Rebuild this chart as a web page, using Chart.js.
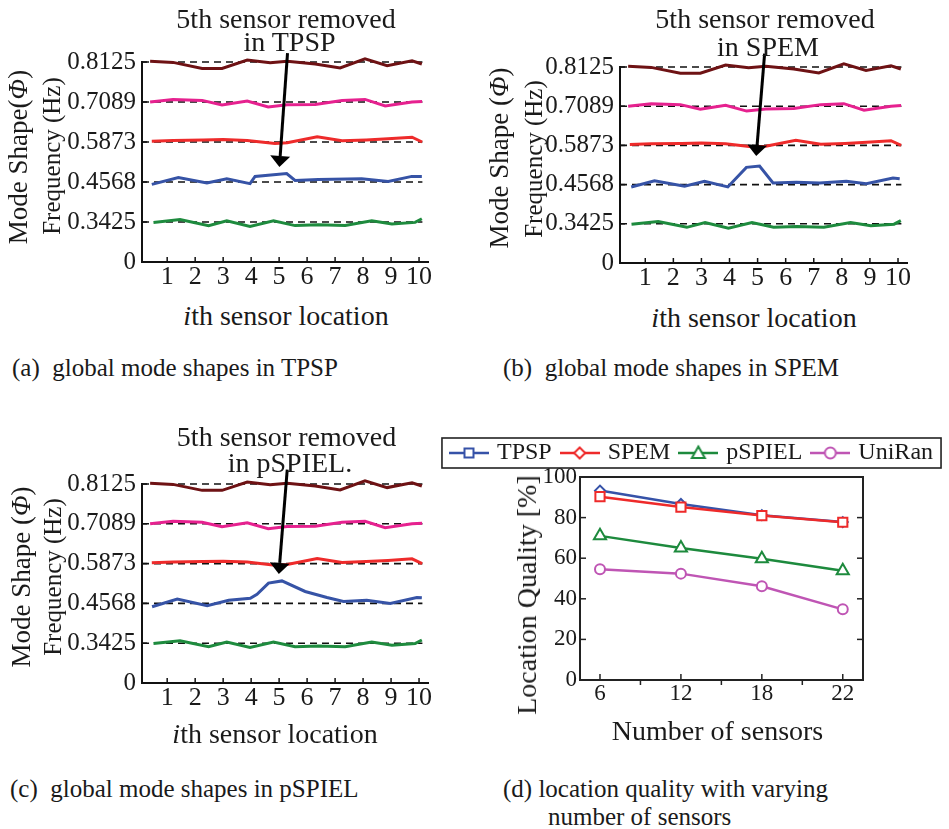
<!DOCTYPE html>
<html>
<head>
<meta charset="utf-8">
<script src="https://cdn.jsdelivr.net/npm/chart.js"></script>
<style>
  body { margin: 0; background: #fff; width: 949px; height: 829px; position: relative; overflow: hidden; }
  canvas { position: absolute; }
  .t { position: absolute; white-space: nowrap; font-family: 'Liberation Serif', serif; color: #1a1a1a; }
</style>
</head>
<body>
<canvas id="chartA" width="470" height="300" style="left:0;top:0"></canvas>
<canvas id="chartB" width="471" height="300" style="left:478px;top:0"></canvas>
<canvas id="chartC" width="470" height="300" style="left:0;top:420px"></canvas>
<canvas id="chartD" width="512" height="321" style="left:437px;top:429px"></canvas>
<script>
// ---- mode shape panels (a)-(c) ----
var sensorLocations = [1, 2, 3, 4, 5, 6, 7, 8, 9, 10];
var levelLabels = ['0', '0.3425', '0.4568', '0.5873', '0.7089', '0.8125'];

// shared mode shapes, in level units (level k = k-th frequency line)
var mode1X = [0.51, 1.46, 2.48, 3.13, 3.96, 4.8, 5.57, 6.4, 7.36, 8.31, 9.03, 9.86, 10.1];
var mode1Y = [0.99, 1.06, 0.91, 1.03, 0.89, 1.03, 0.91, 0.93, 0.91, 1.03, 0.95, 0.99, 1.08];
var mode3X = [0.45, 1.21, 2.29, 3.0, 3.86, 4.85, 5.29, 6.36, 7.25, 8.11, 8.89, 9.75, 10.11];
var mode3Y = [3.02, 3.04, 3.05, 3.06, 3.04, 2.96, 2.98, 3.13, 3.03, 3.05, 3.08, 3.12, 3.0];
var mode4X = [0.39, 1.21, 2.25, 2.96, 3.86, 4.61, 5.29, 6.29, 7.25, 8.07, 8.79, 9.75, 10.11];
var mode4Y = [4.0, 4.065, 4.04, 3.925, 4.025, 3.875, 3.93, 3.94, 4.04, 4.065, 3.9, 4.0, 4.015];
var mode5X = [0.39, 1.21, 2.25, 2.96, 3.86, 4.68, 5.29, 6.29, 7.18, 8.07, 8.86, 9.75, 10.1];
var mode5Y = [5.02, 4.99, 4.84, 4.84, 5.05, 4.98, 5.02, 4.95, 4.85, 5.08, 4.91, 5.03, 4.95];

// second mode, one per method
var blueTPSPX = [0.45, 1.40, 2.42, 3.13, 3.96, 4.14, 5.27, 5.57, 6.40, 7.95, 8.90, 9.74, 10.10];
var blueTPSPY = [1.94, 2.11, 1.975, 2.08, 1.96, 2.14, 2.21, 2.04, 2.06, 2.08, 2.015, 2.14, 2.14];
var blueSPEMX = [0.50, 1.33, 2.40, 3.11, 3.94, 4.60, 5.07, 5.55, 6.38, 7.21, 8.16, 8.87, 9.82, 10.06];
var blueSPEMY = [1.94, 2.10, 1.96, 2.085, 1.94, 2.44, 2.475, 2.04, 2.06, 2.04, 2.085, 2.02, 2.17, 2.15];
var bluePSPIELX = [0.46, 1.36, 2.43, 3.20, 3.97, 4.21, 4.62, 5.10, 5.93, 6.71, 7.30, 8.13, 8.97, 9.92, 10.10];
var bluePSPIELY = [1.915, 2.11, 1.94, 2.08, 2.13, 2.23, 2.51, 2.565, 2.30, 2.15, 2.05, 2.08, 2.0, 2.15, 2.14];

// ---- panel (d) ----
var sensorCounts = [6, 12, 18, 22];
var qualityTicks = [0, 20, 40, 60, 80, 100];
var qualityTPSP = [93.3, 86.7, 81.2, 77.8];
var qualitySPEM = [90.3, 85.2, 81.0, 77.7];
var qualityPSPIEL = [71.0, 65.0, 59.7, 53.8];
var qualityUniRan = [54.6, 52.4, 46.2, 34.8];

var serif = 'Liberation Serif';
var ink = '#1a1a1a';

// dashed frequency levels, inward ticks and the "removed sensor" arrow
var modeDecor = {
  id: 'modeDecor',
  beforeDatasetsDraw: function(chart) {
    var ctx = chart.ctx, a = chart.chartArea, x = chart.scales.x, y = chart.scales.y;
    ctx.save();
    ctx.strokeStyle = '#111';
    ctx.lineWidth = 1.6;
    ctx.setLineDash([7, 5]);
    var xEnd = x.getPixelForValue(10.12);
    for (var k = 1; k < levelLabels.length; k++) {
      var py = y.getPixelForValue(k);
      ctx.beginPath(); ctx.moveTo(a.left, py); ctx.lineTo(xEnd, py); ctx.stroke();
    }
    ctx.setLineDash([]);
    ctx.lineWidth = 1.5;
    sensorLocations.forEach(function(v) {
      var px = x.getPixelForValue(v);
      ctx.beginPath(); ctx.moveTo(px, a.bottom); ctx.lineTo(px, a.bottom - 5); ctx.stroke();
    });
    for (var j = 1; j < levelLabels.length; j++) {
      var qy = y.getPixelForValue(j);
      ctx.beginPath(); ctx.moveTo(a.left, qy); ctx.lineTo(a.left + 5, qy); ctx.stroke();
    }
    ctx.restore();
  },
  afterDatasetsDraw: function(chart, args, opts) {
    if (!opts.to) return;
    var ctx = chart.ctx, x = chart.scales.x, y = chart.scales.y;
    var x0 = x.getPixelForValue(opts.from[0]), y0 = y.getPixelForValue(opts.from[1]);
    var x1 = x.getPixelForValue(opts.to[0]), y1 = y.getPixelForValue(opts.to[1]);
    var len = Math.hypot(x1 - x0, y1 - y0), ux = (x1 - x0) / len, uy = (y1 - y0) / len;
    var bx = x1 - ux * 11, by = y1 - uy * 11;
    ctx.save();
    ctx.strokeStyle = '#000'; ctx.fillStyle = '#000'; ctx.lineWidth = 3;
    ctx.beginPath(); ctx.moveTo(x0, y0); ctx.lineTo(bx, by); ctx.stroke();
    ctx.beginPath();
    ctx.moveTo(x1, y1);
    ctx.lineTo(bx - uy * 10, by + ux * 10);
    ctx.lineTo(bx + uy * 10, by - ux * 10);
    ctx.closePath(); ctx.fill();
    ctx.restore();
  }
};

function modeChart(id, blueX, blueY, arrow, topPad, xHeight) {
  var series = [
    [mode5X, mode5Y, '#6e1214'],
    [mode4X, mode4Y, '#e6218f'],
    [mode3X, mode3Y, '#ee2b2b'],
    [blueX, blueY, '#3653a6'],
    [mode1X, mode1Y, '#1e8b3e']
  ];
  return new Chart(document.getElementById(id), {
    type: 'scatter',
    data: {
      datasets: series.map(function(s) {
        return {
          data: s[0].map(function(xv, i) { return {x: xv, y: s[1][i]}; }),
          showLine: true,
          borderColor: s[2],
          borderWidth: 3,
          pointRadius: 0,
          tension: 0,
          clip: false
        };
      })
    },
    options: {
      responsive: false,
      animation: false,
      events: [],
      layout: {padding: {top: topPad, right: 42, left: 0, bottom: 0}},
      plugins: {legend: {display: false}, tooltip: {enabled: false}, modeDecor: arrow},
      scales: {
        x: {
          type: 'linear', min: 0.1, max: 10.32,
          afterBuildTicks: function(s) { s.ticks = sensorLocations.map(function(v) { return {value: v}; }); },
          afterFit: function(s) { s.height = xHeight; },
          grid: {display: false, drawTicks: false},
          border: {color: '#111', width: 2},
          ticks: {color: ink, font: {family: serif, size: 26}, padding: 0, autoSkip: false, maxRotation: 0}
        },
        y: {
          type: 'linear', min: 0, max: 5,
          afterBuildTicks: function(s) { s.ticks = levelLabels.map(function(_, k) { return {value: k}; }); },
          afterFit: function(s) { s.width = 142; },
          grid: {display: false, drawTicks: false},
          border: {color: '#111', width: 2},
          ticks: {color: ink, font: {family: serif, size: 25}, padding: 6,
                  callback: function(v) { return levelLabels[v]; }}
        }
      }
    },
    plugins: [modeDecor]
  });
}

modeChart('chartA', blueTPSPX, blueTPSPY, {from: [5.30, 5.22], to: [5.01, 2.375]}, 62, 38);
modeChart('chartB', blueSPEMX, blueSPEMY, {from: [5.25, 5.34], to: [4.95, 2.73]}, 67, 37);
modeChart('chartC', bluePSPIELX, bluePSPIELY, {from: [5.29, 5.36], to: [4.99, 2.74]}, 64, 37);

// ---- panel (d) ----
function legendIcon(color, shape) {
  var c = document.createElement('canvas');
  c.width = 40; c.height = 18;
  var g = c.getContext('2d');
  g.strokeStyle = color; g.lineWidth = 2.5;
  g.beginPath(); g.moveTo(0, 9); g.lineTo(40, 9); g.stroke();
  g.lineWidth = 2; g.fillStyle = '#fff';
  g.beginPath();
  if (shape === 'rect') g.rect(15.5, 4.5, 9, 9);
  else if (shape === 'rectRot') { g.moveTo(20, 3.5); g.lineTo(25.5, 9); g.lineTo(20, 14.5); g.lineTo(14.5, 9); g.closePath(); }
  else if (shape === 'triangle') { g.moveTo(20, 2.5); g.lineTo(26.5, 14); g.lineTo(13.5, 14); g.closePath(); }
  else g.arc(20, 9, 5.5, 0, Math.PI * 2);
  g.fill(); g.stroke();
  return c;
}

var qualitySeries = [
  {label: 'TPSP', values: qualityTPSP, color: '#3652a8', point: 'rectRot', key: 'rect', radius: 5, order: 1},
  {label: 'SPEM', values: qualitySPEM, color: '#ee2a2a', point: 'rect', key: 'rectRot', radius: 6.5, order: 0},
  {label: 'pSPIEL', values: qualityPSPIEL, color: '#1d8a3d', point: 'triangle', key: 'triangle', radius: 7, order: 2},
  {label: 'UniRan', values: qualityUniRan, color: '#bf55b4', point: 'circle', key: 'circle', radius: 5, order: 3}
];

var boxDecor = {
  id: 'boxDecor',
  beforeDatasetsDraw: function(chart) {
    var ctx = chart.ctx, a = chart.chartArea, x = chart.scales.x, y = chart.scales.y;
    function seg(x0, y0, x1, y1) { ctx.beginPath(); ctx.moveTo(x0, y0); ctx.lineTo(x1, y1); ctx.stroke(); }
    ctx.save();
    ctx.strokeStyle = '#222';
    ctx.lineWidth = 2;
    ctx.strokeRect(a.left, a.top, a.right - a.left, a.bottom - a.top);
    ctx.lineWidth = 1.5;
    qualityTicks.slice(1, -1).forEach(function(v) {
      var py = y.getPixelForValue(v);
      seg(a.left, py, a.left + 6, py);
      seg(a.right - 6, py, a.right, py);
    });
    sensorCounts.forEach(function(_, i) {
      var px = x.getPixelForValue(i);
      seg(px, a.bottom, px, a.bottom - 6);
      if (i > 0) {
        var mx = x.getPixelForValue(i - 0.5);
        seg(mx, a.bottom, mx, a.bottom + 5);
      }
    });
    ctx.restore();
  },
  afterDraw: function(chart) {
    var ctx = chart.ctx, hb = chart.legend.legendHitBoxes;
    if (!hb || !hb.length) return;
    var last = hb[hb.length - 1];
    var l = hb[0].left - 11, r = last.left + last.width + 8;
    var cy = hb[0].top + hb[0].height / 2;
    ctx.save();
    ctx.strokeStyle = '#222'; ctx.lineWidth = 1.6;
    ctx.strokeRect(l, cy - 15, r - l, 30);
    ctx.restore();
  }
};

var icons = qualitySeries.map(function(s) { return legendIcon(s.color, s.key); });

new Chart(document.getElementById('chartD'), {
  type: 'scatter',
  data: {
    datasets: qualitySeries.map(function(s) {
      return {
        label: s.label,
        data: s.values.map(function(v, i) { return {x: i, y: v}; }),
        showLine: true,
        order: s.order,
        borderColor: s.color,
        borderWidth: 2.5,
        pointStyle: s.point,
        pointRadius: s.radius,
        pointBorderWidth: 2,
        pointBorderColor: s.color,
        pointBackgroundColor: '#fff',
        tension: 0,
        clip: false
      };
    })
  },
  options: {
    responsive: false,
    animation: false,
    events: [],
    layout: {padding: 0},
    plugins: {
      tooltip: {enabled: false},
      legend: {
        position: 'top',
        labels: {
          usePointStyle: true,
          pointStyleWidth: 32,
          padding: 12,
          color: ink,
          font: {family: serif, size: 24},
          generateLabels: function() {
            return qualitySeries.map(function(s, i) {
              return {text: s.label, pointStyle: icons[i], lineWidth: 0, hidden: false, datasetIndex: i,
                      fillStyle: '#fff', strokeStyle: s.color, fontColor: ink};
            });
          }
        }
      }
    },
    scales: {
      x: {
        type: 'linear', min: -0.247, max: 3.25,
        afterBuildTicks: function(s) { s.ticks = sensorCounts.map(function(_, i) { return {value: i}; }); },
        afterFit: function(s) { s.height = 70; },
        grid: {display: false, drawTicks: false},
        border: {display: false},
        ticks: {color: ink, font: {family: serif, size: 23}, padding: 0, maxRotation: 0,
                callback: function(v) { return String(sensorCounts[v]); }}
      },
      y: {
        type: 'linear', min: 0, max: 100,
        afterBuildTicks: function(s) { s.ticks = qualityTicks.map(function(v) { return {value: v}; }); },
        afterFit: function(s) { s.width = 143; },
        grid: {display: false, drawTicks: false},
        border: {display: false},
        ticks: {color: ink, font: {family: serif, size: 23}, padding: 3}
      },
      yR: {
        position: 'right', display: true,
        ticks: {display: false}, grid: {display: false, drawTicks: false}, border: {display: false},
        afterFit: function(s) { s.width = 86; }
      },
      xT: {
        position: 'top', display: true,
        ticks: {display: false}, grid: {display: false, drawTicks: false}, border: {display: false},
        afterFit: function(s) { s.height = 2; }
      }
    }
  },
  plugins: [boxDecor]
});

// ---- text around the charts ----
function txt(html, x, base, size, mode) {
  var d = document.createElement('div');
  d.className = 't';
  d.innerHTML = html;
  d.style.fontSize = size + 'px';
  d.style.lineHeight = size + 'px';
  if (mode === 'rot') {
    d.style.left = (x - 0.3375 * size) + 'px';
    d.style.top = base + 'px';
    d.style.transform = 'translate(-50%,-50%) rotate(-90deg)';
  } else {
    d.style.left = x + 'px';
    d.style.top = (base - 0.8375 * size) + 'px';
    if (mode === 'c') d.style.transform = 'translateX(-50%)';
  }
  document.body.appendChild(d);
}

// (a)
txt('5th sensor removed', 286, 28.3, 28, 'c');
txt('in TPSP', 289.5, 51.7, 28, 'c');
txt('Mode Shape(<i>\u03A6</i>)', 27, 157, 27, 'rot');
txt('Frequency (Hz)', 59, 155.5, 25, 'rot');
txt('<i>i</i>th sensor location', 286, 325, 28, 'c');
txt('(a)&nbsp; global mode shapes in TPSP', 12, 376, 25);
// (b)
txt('5th sensor removed', 765, 28.3, 28, 'c');
txt('in SPEM', 768, 56, 28, 'c');
txt('Mode Shape (<i>\u03A6</i>)', 508, 157.5, 27, 'rot');
txt('Frequency (Hz)', 541, 158.5, 25, 'rot');
txt('<i>i</i>th sensor location', 754, 327, 28, 'c');
txt('(b)&nbsp; global mode shapes in SPEM', 503, 376, 25);
// (c)
txt('5th sensor removed', 286.5, 446, 28, 'c');
txt('in pSPIEL.', 290, 472, 28, 'c');
txt('Mode Shape (<i>\u03A6</i>)', 30, 576.5, 27, 'rot');
txt('Frequency (Hz)', 60, 576.5, 25, 'rot');
txt('<i>i</i>th sensor location', 275, 743, 28, 'c');
txt('(c)&nbsp; global mode shapes in pSPIEL', 10, 797, 25);
// (d)
txt('Location Quality [%]', 536, 595, 28, 'rot');
txt('Number of sensors', 717.5, 740, 28, 'c');
txt('(d) location quality with varying', 503, 797, 25);
txt('number of sensors', 548, 825, 25);
</script>
</body>
</html>
